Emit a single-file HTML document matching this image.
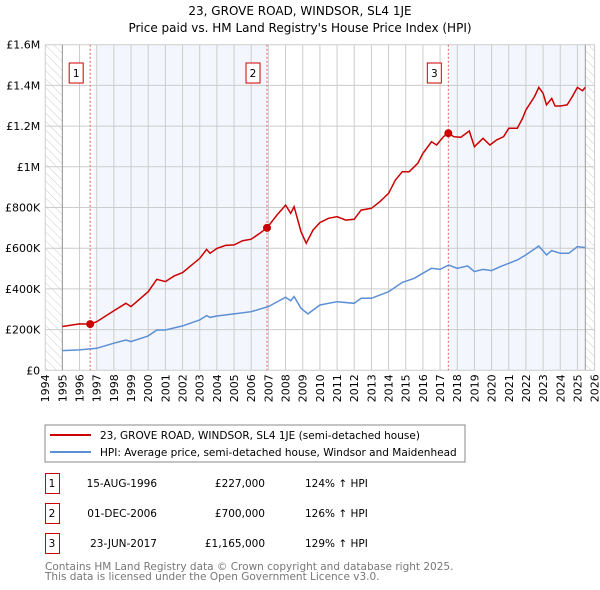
<!DOCTYPE html>
<html><head><meta charset="utf-8"><style>
body{margin:0;background:#fff;font-family:"DejaVu Sans","Liberation Sans",sans-serif;}
svg{display:block}
</style></head><body>
<svg id="c" width="600" height="590" xmlns="http://www.w3.org/2000/svg" font-family="DejaVu Sans, Liberation Sans, sans-serif">
<defs><pattern id="hatch" width="6" height="6" patternUnits="userSpaceOnUse" patternTransform="rotate(-45)"><line x1="0" y1="0" x2="0" y2="6" stroke="#ccc" stroke-width="1"/></pattern></defs>
<text x="300" y="15" text-anchor="middle" font-size="12">23, GROVE ROAD, WINDSOR, SL4 1JE</text>
<text x="300" y="32" text-anchor="middle" font-size="12">Price paid vs. HM Land Registry's House Price Index (HPI)</text>
<g id="plot"></g>
<rect x="45" y="425" width="420" height="37" fill="#fff" stroke="#888"/>
<line x1="50" y1="435" x2="91" y2="435" stroke="#cc0000" stroke-width="2"/>
<text x="100" y="439" font-size="10.5">23, GROVE ROAD, WINDSOR, SL4 1JE (semi-detached house)</text>
<line x1="50" y1="452" x2="91" y2="452" stroke="#5b8fd6" stroke-width="2"/>
<text x="100" y="456" font-size="10.5">HPI: Average price, semi-detached house, Windsor and Maidenhead</text>
<g font-size="10.5" id="tbl"></g>
<text x="45" y="570" font-size="10.5" fill="#777">Contains HM Land Registry data © Crown copyright and database right 2025.</text>
<text x="45" y="580" font-size="10.5" fill="#777">This data is licensed under the Open Government Licence v3.0.</text>
</svg>
<script>
const redYears=[1995,1996,1996.62,1997,1998,1998.7,1999,2000,2000.5,2001,2001.5,2002,2003,2003.4,2003.6,2004,2004.5,2005,2005.5,2006,2006.5,2006.92,2007.5,2008,2008.3,2008.5,2008.9,2009.2,2009.6,2010,2010.5,2011,2011.5,2012,2012.4,2013,2013.5,2014,2014.4,2014.8,2015.2,2015.7,2016,2016.5,2016.8,2017.2,2017.48,2017.8,2018.2,2018.7,2019,2019.5,2019.9,2020.3,2020.7,2021,2021.5,2021.8,2022,2022.5,2022.75,2023,2023.2,2023.5,2023.7,2024,2024.4,2024.7,2025,2025.3,2025.45];
const redVals=[215,228,227,239,293,329,313,386,447,436,463,480,550,594,575,599,614,616,637,644,673,700,763,812,771,804,681,624,689,726,747,755,738,742,787,796,829,870,935,976,976,1017,1066,1123,1107,1148,1165,1148,1145,1176,1099,1140,1107,1132,1148,1189,1189,1238,1279,1345,1390,1361,1304,1336,1299,1299,1304,1345,1390,1374,1390];
const hpiYears=[1995,1996,1997,1998,1998.7,1999,2000,2000.5,2001,2002,2003,2003.4,2003.6,2004,2005,2006,2007,2008,2008.3,2008.5,2008.9,2009.3,2010,2011,2012,2012.4,2013,2014,2014.8,2015.5,2016,2016.5,2017,2017.5,2018,2018.6,2019,2019.5,2020,2020.5,2021,2021.5,2022,2022.75,2023.2,2023.5,2024,2024.5,2025,2025.45];
const hpiVals=[97,100,108,133,149,141,169,198,198,218,247,269,260,267,277,288,313,359,342,362,305,277,321,337,329,354,354,386,432,452,477,501,496,517,501,513,485,496,490,509,526,542,567,611,567,588,575,575,608,603];
const saleYears=[1996.62,2006.92,2017.48];
const saleVals=[227,700,1165];
const saleLabels=["1","2","3"];
const saleDates=["15-AUG-1996","01-DEC-2006","23-JUN-2017"];
const salePrices=["£227,000","£700,000","£1,165,000"];
const saleHpi=["124% ↑ HPI","126% ↑ HPI","129% ↑ HPI"];
const yTicks=[0,200,400,600,800,1000,1200,1400,1600];
const yTickLabels=["£0","£200K","£400K","£600K","£800K","£1M","£1.2M","£1.4M","£1.6M"];
const L=45.2,R=594.6,T=44.7,B=370.3,Y0=1994,Y1=2026;
const X=y=>L+(y-Y0)*(R-L)/(Y1-Y0);
const Y=v=>B-v*(B-T)/1600;
const NS="http://www.w3.org/2000/svg";
const g=document.getElementById('plot');
function mk(t,a,p){const e=document.createElementNS(NS,t);for(const k in a)e.setAttribute(k,a[k]);(p||g).appendChild(e);return e;}
let e;
e=mk('rect',{x:L,y:T,width:R-L,height:B-T,fill:'#fff'});


e=mk('rect',{x:X(1997),y:T,width:X(saleYears[1])-X(1997),height:B-T,fill:'#f3f6fd'});


e=mk('rect',{x:X(saleYears[2]),y:T,width:X(2025.46)-X(saleYears[2]),height:B-T,fill:'#f3f6fd'});


e=mk('rect',{x:L,y:T,width:X(1995)-L,height:B-T,fill:'url(#hatch)'});


e=mk('rect',{x:X(2025.46),y:T,width:R-X(2025.46),height:B-T,fill:'url(#hatch)'});


for(let yr=Y0;yr<=Y1;yr++){
 e=mk('line',{x1:X(yr),x2:X(yr),y1:T,y2:B,stroke:'#ccc','stroke-width':1});
 
 
 const tx=X(yr)+4,ty=B+4;
 e=mk('text',{x:tx,y:ty,'font-size':11,'text-anchor':'end',transform:`rotate(-90 ${tx} ${ty})`});
 e.textContent=yr;
 
 
}
yTicks.forEach((v,i)=>{
 e=mk('line',{x1:L,x2:R,y1:Y(v),y2:Y(v),stroke:'#ccc','stroke-width':1});
 
 
 e=mk('text',{x:L-5,y:Y(v)+4,'font-size':11,'text-anchor':'end'});
 e.textContent=yTickLabels[i];
 
 
});
e=mk('line',{x1:X(1995),x2:X(1995),y1:T,y2:B,stroke:'#999'});


e=mk('line',{x1:X(2025.46),x2:X(2025.46),y1:T,y2:B,stroke:'#999'});


saleYears.forEach((s,i)=>{
 e=mk('line',{x1:X(s),x2:X(s),y1:T,y2:B,stroke:'#e06060','stroke-dasharray':'2,2','stroke-width':1});
 
 
 e=mk('rect',{x:X(s)-21,y:63,width:14,height:20,fill:'#fff',stroke:'#cc0000'});
 
 
 e=mk('text',{x:X(s)-14,y:77,'font-size':10.5,'text-anchor':'middle'});
 e.textContent=saleLabels[i];
 
 
});
const pts=(ys,vs)=>ys.map((y,i)=>X(y).toFixed(1)+','+Y(vs[i]).toFixed(1)).join(' ');
e=mk('polyline',{points:pts(hpiYears,hpiVals),fill:'none',stroke:'#5b8fd6','stroke-width':1.5});


e=mk('polyline',{points:pts(redYears,redVals),fill:'none',stroke:'#cc0000','stroke-width':1.5});


saleYears.forEach((s,i)=>{
 e=mk('circle',{cx:X(s),cy:Y(saleVals[i]),r:4,fill:'#cc0000'});
 
 
});
const tb=document.getElementById('tbl');
saleYears.forEach((s,i)=>{
 const cy=483+i*30;
 e=mk('rect',{x:45.5,y:cy-9.5,width:14,height:20,fill:'#fff',stroke:'#cc0000'},tb);
 
 
 const cells=[[52,'middle',saleLabels[i],'table-marker-label'],[157,'end',saleDates[i],'table-date'],[265,'end',salePrices[i],'table-price'],[305,'start',saleHpi[i],'table-hpi-change']];
 cells.forEach(c=>{
  e=mk('text',{x:c[0],y:cy+4,'text-anchor':c[1]},tb);
  e.textContent=c[2];
  
  
 });
});
</script>
</body></html>
